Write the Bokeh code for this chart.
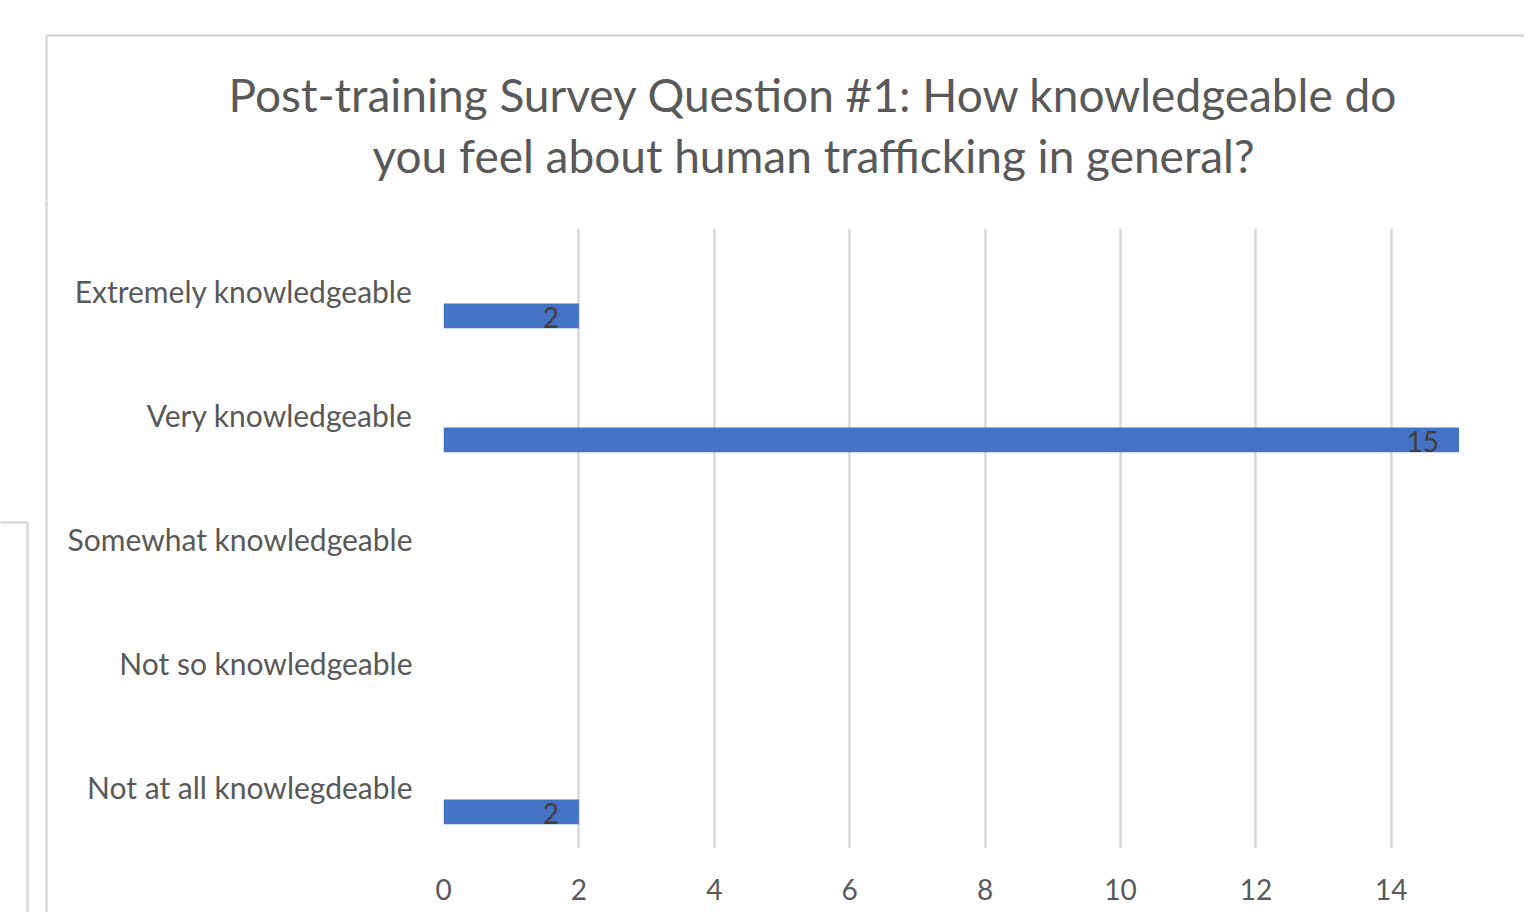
from bokeh.plotting import figure
from bokeh.layouts import column, row
from bokeh.models import ColumnDataSource, FixedTicker, Range1d
from bokeh.core.properties import value
from bokeh.embed import file_html
from bokeh.resources import INLINE

# ---------------- data ----------------
categories = [
    "Extremely knowledgeable",
    "Very knowledgeable",
    "Somewhat knowledgeable",
    "Not so knowledgeable",
    "Not at all knowlegdeable",
]
counts = [2, 15, 0, 0, 2]
x_ticks = [0, 2, 4, 6, 8, 10, 12, 14, 16]
title_lines = [
    "Post-training Survey Question #1: How knowledgeable do",
    "you feel about human trafficking in general?",
]

# ---------------- layout / style ----------------
FONT = "Lato"
GRAY = "#595959"
DARK = "#404040"
BAR = "#4472C4"
BORDER = "#d9d9d9"
GRID = "#d9d9d9"

W, H = 1524, 912          # whole picture
HT = 200                  # height of the title strip
WL = 60                   # width of the left decoration strip
HM = H - HT               # height of the chart strip
WM = W - WL               # width of the chart figure

FRAME_LEFT_G, FRAME_TOP_G, FRAME_BOTTOM_G = 443, 228, 848
PX_PER_UNIT = 67.7
n = len(categories)
x_end = (W - FRAME_LEFT_G) / PX_PER_UNIT


def deco_figure(w, h):
    f = figure(width=w, height=h, x_range=Range1d(0, w), y_range=Range1d(h, 0),
               x_axis_type=None, y_axis_type=None, title=None,
               output_backend="svg", toolbar_location=None,
               min_border_left=0, min_border_right=0,
               min_border_top=0, min_border_bottom=0)
    f.frame_align = False
    f.outline_line_color = None
    f.background_fill_color = "white"
    f.border_fill_color = "white"
    return f


# ---- title strip (chart-area border + two-line title) ----
tf = deco_figure(W, HT)
tf.text(x=[813, 813], y=[94, 155], text=title_lines, text_align="center",
        text_baseline="alphabetic", text_font=value(FONT),
        text_font_size="46px", text_color=GRAY)
tf.segment(x0=[46, 46], y0=[35, 35], x1=[W + 10, 46], y1=[35, HT + 10],
           line_color=BORDER, line_width=2.5)

# ---- left strip (chart-area border + neighbouring panel edge) ----
lf = deco_figure(WL, HM)
lf.segment(x0=[46, -10, 27], y0=[-10, 522 - HT, 522 - HT],
           x1=[46, 27, 27], y1=[HM + 10, 522 - HT, HM + 10],
           line_color=BORDER, line_width=2.5)

# ---- chart ----
ypos = [n - 1 - i for i in range(n)]  # first category on top
BAR_SHIFT = 0.205
BAR_H = 0.2

keep = [i for i, c in enumerate(counts) if c]
src = ColumnDataSource(dict(
    count=[counts[i] for i in keep],
    y=[ypos[i] - BAR_SHIFT for i in keep],
    label=[str(counts[i]) for i in keep],
))

p = figure(width=WM, height=HM, x_range=(0, x_end), y_range=(-0.5, n - 0.5),
           title=None, output_backend="svg", toolbar_location=None,
           min_border_left=FRAME_LEFT_G - WL, min_border_right=0,
           min_border_top=FRAME_TOP_G - HT,
           min_border_bottom=H - FRAME_BOTTOM_G)
p.frame_align = False
p.outline_line_color = None
p.background_fill_color = "white"
p.border_fill_color = "white"

p.hbar(y="y", right="count", left=0, height=BAR_H, source=src,
       fill_color=BAR, line_color=None)
p.text(x="count", y="y", text="label", source=src, text_align="right",
       text_baseline="middle", x_offset=-20, y_offset=2,
       text_font=value(FONT), text_font_size="28px", text_color=DARK)

p.xgrid.ticker = FixedTicker(ticks=x_ticks)
p.xgrid.grid_line_color = GRID
p.xgrid.grid_line_width = 2.5
p.ygrid.grid_line_color = None

p.xaxis.ticker = FixedTicker(ticks=x_ticks)
p.xaxis.axis_line_color = None
p.xaxis.major_tick_line_color = None
p.xaxis.minor_tick_line_color = None
p.xaxis.major_label_standoff = 24
p.xaxis.major_label_text_font = FONT
p.xaxis.major_label_text_font_size = "28px"
p.xaxis.major_label_text_color = GRAY

p.yaxis.ticker = FixedTicker(ticks=ypos)
p.yaxis.major_label_overrides = {ypos[i]: categories[i] for i in range(n)}
p.yaxis.axis_line_color = None
p.yaxis.major_tick_line_color = None
p.yaxis.minor_tick_line_color = None
p.yaxis.major_label_standoff = 25
p.yaxis.major_label_text_font = FONT
p.yaxis.major_label_text_font_size = "30px"
p.yaxis.major_label_text_color = GRAY

layout = column(tf, row(lf, p, spacing=0), spacing=0)
open("out.html", "w").write(file_html(layout, INLINE))
